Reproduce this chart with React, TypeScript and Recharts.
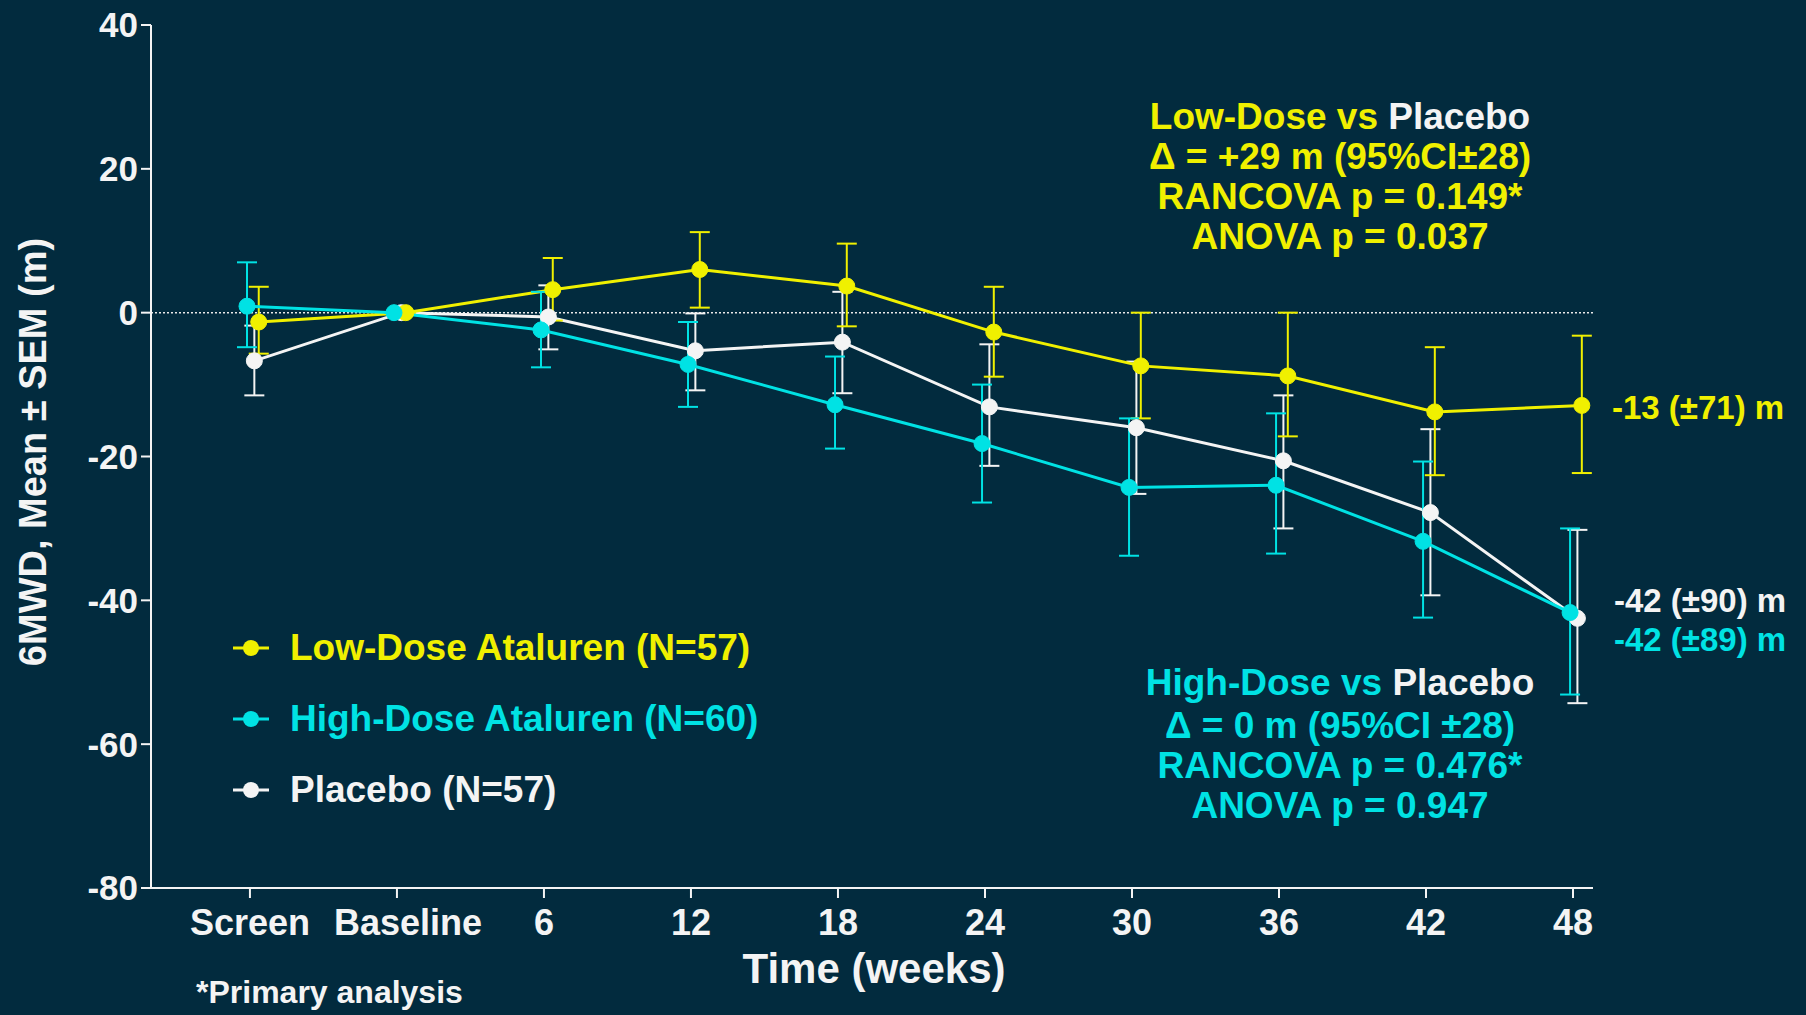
import { LineChart, Line, XAxis, YAxis, ReferenceLine, ErrorBar, Legend } from "recharts";

const weeks = ["Screen", "Baseline", "6", "12", "18", "24", "30", "36", "42", "48"];
const yTicks = [-80, -60, -40, -20, 0, 20, 40];

// mean change and SEM bounds
const lowMean = [-1.3, 0, 3.2, 6.0, 3.7, -2.7, -7.4, -8.8, -13.8, -12.9];
const lowUpper = [3.6, 0, 7.6, 11.2, 9.6, 3.6, 0, 0, -4.8, -3.2];
const lowLower = [-5.7, 0, -1.1, 0.7, -1.9, -8.9, -14.7, -17.2, -22.6, -22.3];

const highMean = [0.9, 0, -2.4, -7.2, -12.8, -18.2, -24.3, -24.0, -31.8, -41.7];
const highUpper = [7.0, 0, 2.9, -1.3, -6.1, -10.0, -14.7, -14.0, -20.7, -30.0];
const highLower = [-4.8, 0, -7.6, -13.1, -18.9, -26.4, -33.8, -33.5, -42.4, -53.1];

const placeboMean = [-6.7, 0, -0.6, -5.3, -4.1, -13.1, -16.0, -20.6, -27.8, -42.5];
const placeboUpper = [-1.8, 0, 3.8, -0.1, 2.9, -4.4, -6.8, -11.5, -16.2, -30.2];
const placeboLower = [-11.5, 0, -5.1, -10.8, -11.2, -21.3, -25.2, -30.0, -39.3, -54.3];

const seriesNames = ["Low-Dose Ataluren (N=57)", "High-Dose Ataluren (N=60)", "Placebo (N=57)"];
const endLabels = ["-13 (±71) m", "-42 (±90) m", "-42 (±89) m"];
const lowVsPlacebo = ["Δ = +29 m (95%CI±28)", "RANCOVA p = 0.149*", "ANOVA p = 0.037"];
const highVsPlacebo = ["Δ = 0 m (95%CI ±28)", "RANCOVA p = 0.476*", "ANOVA p = 0.947"];

const BG = "#022b3e";
const YELLOW = "#f0f000";
const CYAN = "#00e2e4";
const WHITE = "#f4f4f4";
const FONT = "'Liberation Sans', Arial, Helvetica, sans-serif";

function build(mean: number[], lower: number[], upper: number[], shift: number) {
  return mean.map((y, i) => ({ x: i + shift, y, err: [y - lower[i], upper[i] - y] }));
}

const lowData = build(lowMean, lowLower, lowUpper, 0.06);
const highData = build(highMean, highLower, highUpper, -0.02);
const placeboData = build(placeboMean, placeboLower, placeboUpper, 0.03);

const legendItems = [
  { name: seriesNames[0], color: YELLOW },
  { name: seriesNames[1], color: CYAN },
  { name: seriesNames[2], color: WHITE },
];

function LegendBox() {
  return (
    <div style={{ fontFamily: FONT, fontWeight: 700, fontSize: 37 }}>
      {legendItems.map((it) => (
        <div key={it.name} style={{ display: "flex", alignItems: "center", height: 71 }}>
          <svg width={36} height={20} style={{ marginRight: 21 }}>
            <line x1={0} y1={10} x2={36} y2={10} stroke={it.color} strokeWidth={3} />
            <circle cx={18} cy={10} r={8} fill={it.color} />
          </svg>
          <span style={{ color: it.color }}>{it.name}</span>
        </div>
      ))}
    </div>
  );
}

// x tick: "Baseline" sits a little right of its tick in the original
function WeekTick(props: any) {
  const { x, y, payload } = props;
  const label = weeks[payload.value];
  const dx = label === "Baseline" ? 11 : 0;
  return (
    <text
      x={x + dx}
      y={y}
      dy="0.71em"
      textAnchor="middle"
      fill={WHITE}
      fontSize={36}
      fontWeight={700}
      fontFamily={FONT}
    >
      {label}
    </text>
  );
}

export default function App() {
  const yTickStyle = { fill: WHITE, fontSize: 35, fontWeight: 700, fontFamily: FONT };
  return (
    <div style={{ position: "fixed", left: 0, top: 0, width: 1806, height: 1015, background: BG, overflow: "hidden" }}>
      <LineChart width={1806} height={1015} margin={{ top: 25, right: 213, bottom: 67, left: 91 }}>
        <XAxis
          type="number"
          dataKey="x"
          domain={[-0.673, 9.136]}
          ticks={[0, 1, 2, 3, 4, 5, 6, 7, 8, 9]}
          interval={0}
          height={60}
          stroke={WHITE}
          strokeWidth={2}
          tickSize={10}
          tickMargin={11}
          tick={<WeekTick />}
          allowDataOverflow
        />
        <YAxis
          type="number"
          domain={[-80, 40]}
          ticks={yTicks}
          width={60}
          stroke={WHITE}
          strokeWidth={2}
          tickSize={10}
          tickMargin={3}
          tick={yTickStyle}
          allowDataOverflow
        />
        <ReferenceLine y={0} stroke="#e8e8e8" strokeWidth={1.5} strokeDasharray="2 2" />
        <Legend
          layout="vertical"
          align="center"
          verticalAlign="middle"
          wrapperStyle={{ left: 233, top: 612, width: 620 }}
          content={() => <LegendBox />}
        />
        <Line
          data={placeboData}
          dataKey="y"
          name={seriesNames[2]}
          stroke={WHITE}
          strokeWidth={3}
          dot={{ r: 8, fill: WHITE, stroke: WHITE, strokeWidth: 1 }}
          isAnimationActive={false}
        >
          <ErrorBar dataKey="err" direction="y" width={10} stroke={WHITE} strokeWidth={2} />
        </Line>
        <Line
          data={lowData}
          dataKey="y"
          name={seriesNames[0]}
          stroke={YELLOW}
          strokeWidth={3}
          dot={{ r: 8, fill: YELLOW, stroke: YELLOW, strokeWidth: 1 }}
          isAnimationActive={false}
        >
          <ErrorBar dataKey="err" direction="y" width={10} stroke={YELLOW} strokeWidth={2} />
        </Line>
        <Line
          data={highData}
          dataKey="y"
          name={seriesNames[1]}
          stroke={CYAN}
          strokeWidth={3}
          dot={{ r: 8, fill: CYAN, stroke: CYAN, strokeWidth: 1 }}
          isAnimationActive={false}
        >
          <ErrorBar dataKey="err" direction="y" width={10} stroke={CYAN} strokeWidth={2} />
        </Line>
      </LineChart>

      <svg
        width={1806}
        height={1015}
        style={{ position: "absolute", left: 0, top: 0, pointerEvents: "none" }}
        fontFamily={FONT}
        fontWeight={700}
      >
        <text
          x={33}
          y={452}
          transform="rotate(-90 33 452)"
          textAnchor="middle"
          dominantBaseline="central"
          fontSize={38}
          fill={WHITE}
        >
          6MWD, Mean ± SEM (m)
        </text>
        <text x={874} y={968} textAnchor="middle" dominantBaseline="central" fontSize={42} fill={WHITE}>
          Time (weeks)
        </text>
        <text x={196} y={992} dominantBaseline="central" fontSize={32} fill={WHITE}>
          *Primary analysis
        </text>

        <g fontSize={37} textAnchor="middle">
          <text x={1340} y={116} dominantBaseline="central" fill={YELLOW}>
            Low-Dose vs <tspan fill={WHITE}>Placebo</tspan>
          </text>
          {lowVsPlacebo.map((t, i) => (
            <text key={t} x={1340} y={156 + i * 40} dominantBaseline="central" fill={YELLOW}>
              {t}
            </text>
          ))}
          <text x={1340} y={682} dominantBaseline="central" fill={CYAN}>
            High-Dose vs <tspan fill={WHITE}>Placebo</tspan>
          </text>
          {highVsPlacebo.map((t, i) => (
            <text key={t} x={1340} y={725 + i * 40} dominantBaseline="central" fill={CYAN}>
              {t}
            </text>
          ))}
        </g>

        <g fontSize={33}>
          <text x={1612} y={407} dominantBaseline="central" fill={YELLOW}>{endLabels[0]}</text>
          <text x={1614} y={600} dominantBaseline="central" fill={WHITE}>{endLabels[1]}</text>
          <text x={1614} y={639} dominantBaseline="central" fill={CYAN}>{endLabels[2]}</text>
        </g>
      </svg>
    </div>
  );
}
